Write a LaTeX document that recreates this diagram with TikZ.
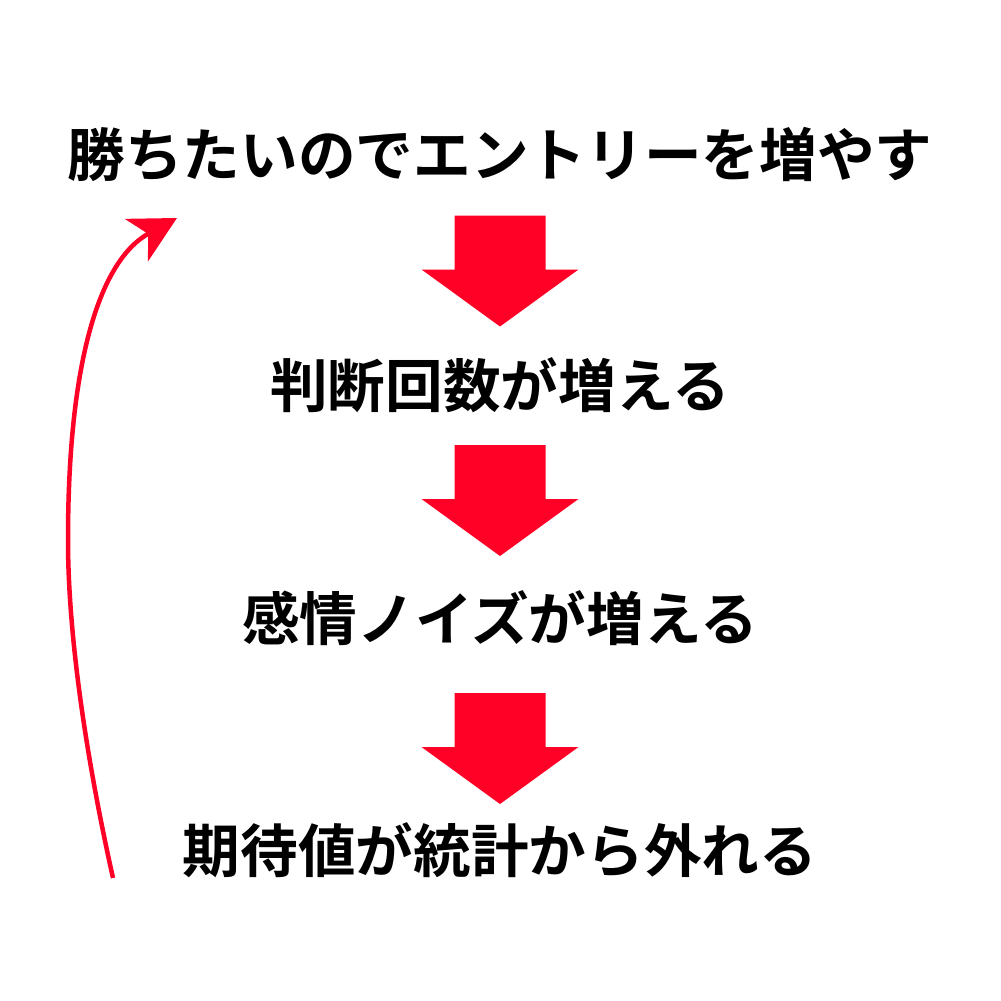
\documentclass[tikz,border=0pt]{standalone}
\usepackage{fontspec}
\newfontfamily\jpfont{Noto Sans CJK JP Bold}
\usepackage{tikz}
\usetikzlibrary{positioning,arrows.meta}
\usepackage{xcolor}
\definecolor{loopred}{RGB}{255, 0, 38}

\begin{document}
\begin{tikzpicture}[x=0.1mm, y=-0.1mm,
    claim/.style={font=\jpfont\fontsize{16.4pt}{20pt}\selectfont, inner sep=0pt, text=black},
    blockarrow/.pic={\fill[loopred] (-45.5,-55) -- (45.5,-55) -- (45.5,-1) -- (78.5,-1) -- (0,56) -- (-78.5,-1) -- (-45.5,-1) -- cycle;},
    loop arrow/.style={draw=loopred, line width=0.45mm, -{Stealth[length=4.6mm, width=4.8mm, inset=1.3mm]}}]

    \useasboundingbox (0,0) rectangle (1001,1001);

    \node [claim] (entry) at (500,154) {勝ちたいのでエントリーを増やす};
    \node [claim] (judge) at (500,385) {判断回数が増える};
    \node [claim] (noise) at (500,618) {感情ノイズが増える};
    \node [claim] (ev) at (500,850) {期待値が統計から外れる};

    \pic at (500,270.5) {blockarrow};
    \pic at (500,500) {blockarrow};
    \pic at (500,748) {blockarrow};

    \coordinate (loop start) at (113,878);
    \coordinate (loop turn) at (68,540);
    \coordinate (loop end) at (177,218);
    \draw [loop arrow] (loop start) .. controls (88,766) and (68,640) .. (loop turn)
        .. controls (68,360) and (100,260) .. (loop end);
\end{tikzpicture}
\end{document}
